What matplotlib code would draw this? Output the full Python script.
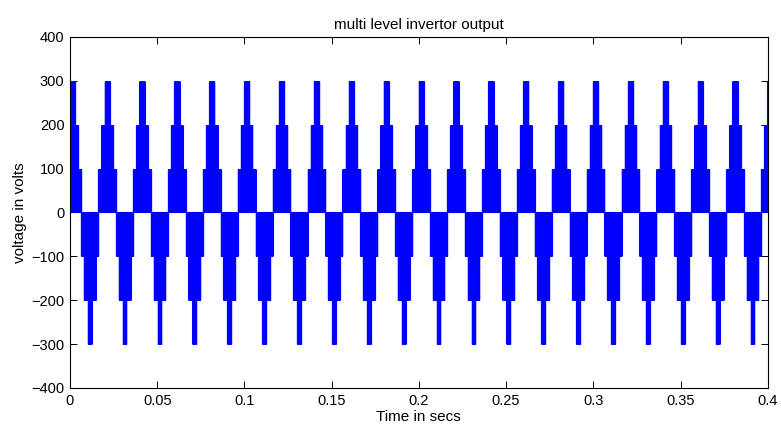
import matplotlib.pyplot as plt
import numpy as np

# values
freq = 50                      # Hz, 20 cycles in 0.4 s
t_end = 0.4
levels = [100, 200, 300]       # voltage steps of the inverter
pos_peak = 0.0013              # centre of the first positive hump (s)
neg_peak = 0.0113              # centre of the first negative hump (s)
pos_half_widths = [0.0051, 0.0033, 0.0015]   # half width of each level band (s)
neg_half_widths = [0.0049, 0.0034, 0.0011]
switch_step = 0.0001           # PWM switching between adjacent levels

xticks = [0, 0.05, 0.1, 0.15, 0.2, 0.25, 0.3, 0.35, 0.4]
xticklabels = ['0', '0.05', '0.1', '0.15', '0.2', '0.25', '0.3', '0.35', '0.4']
yticks = [-400, -300, -200, -100, 0, 100, 200, 300, 400]

plt.rcParams['font.family'] = ['Liberation Sans', 'DejaVu Sans']

period = 1 / freq
cycles = np.arange(-1, int(round(t_end * freq)) + 1)

fig = plt.figure(figsize=(7.81, 4.34), dpi=100)
ax = fig.add_axes([0.0896, 0.106, 0.8934, 0.809])

blue = '#0000ff'
# output sits at zero between the humps
ax.axhline(0, color=blue, linewidth=0.8)

# every switching edge between two adjacent levels, hump by hump
for sign, peak, widths in [(1, pos_peak, pos_half_widths),
                           (-1, neg_peak, neg_half_widths)]:
    for lev, w in zip(levels, widths):
        edges = []
        for c in peak + period * cycles:
            edges.append(np.arange(c - w, c + w + 1e-9, switch_step))
        edges = np.concatenate(edges)
        edges = edges[(edges >= 0) & (edges <= t_end)]
        ax.vlines(edges, sign * (lev - 100), sign * lev, colors=blue,
                  linewidth=0.8)

ax.set_xlim(0, 0.4)
ax.set_ylim(-400, 400)
ax.set_xticks(xticks)
ax.set_xticklabels(xticklabels)
ax.set_yticks(yticks)
ax.tick_params(direction='in', length=5, width=0.7, top=True, right=True,
               labelsize=10.5, pad=4)
for s in ax.spines.values():
    s.set_linewidth(0.8)

ax.set_title('multi level invertor output', fontsize=11, pad=6)
ax.set_xlabel('Time in secs', fontsize=11, labelpad=2)
ax.set_ylabel('voltage in volts', fontsize=11, labelpad=3)

plt.savefig('out.png', dpi=100)
